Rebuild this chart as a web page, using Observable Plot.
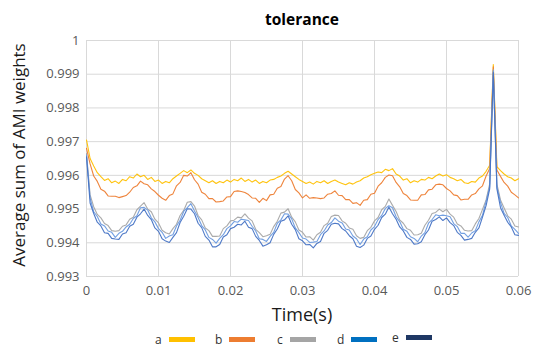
<!DOCTYPE html>
<html>
<head>
<meta charset="utf-8">
<script src="https://cdn.jsdelivr.net/npm/d3@7"></script>
<script src="https://cdn.jsdelivr.net/npm/@observablehq/plot@0.6"></script>
<style>
  html, body { margin: 0; padding: 0; background: #fff; }
  body { width: 537px; height: 350px; position: relative; overflow: hidden; font-family: "Open Sans", "Noto Sans", sans-serif; }
  #title { position: absolute; left: 202px; width: 200px; top: 8px; text-align: center; font-weight: bold; font-size: 15.5px; color: #000; }
  #chart { position: absolute; left: 0; top: 30px; }
  #ylabel { position: absolute; left: 18px; top: 155px; transform: translate(-50%, -50%) rotate(-90deg); white-space: nowrap; font-size: 17px; color: #1a1a1a; }
  #xlabel { position: absolute; left: 252px; width: 100px; top: 302px; text-align: center; font-size: 18px; color: #1a1a1a; }
  .leg { position: absolute; top: 331px; font-size: 12px; color: #333; display: flex; align-items: center; }
  .leg span.sw { display: inline-block; width: 26px; height: 5px; margin-left: 7px; }
</style>
</head>
<body>
<div id="title">tolerance</div>
<div id="chart"></div>
<div id="ylabel">Average sum of AMI weights</div>
<div id="xlabel">Time(s)</div>
<div id="legend"></div>
<script>
// ---- data ----
const seriesNames = ["a", "b", "c", "d", "e"];
const legendColors = ["#FFC000", "#ED7D31", "#A5A5A5", "#0070C0", "#1F3864"];
const lineColors = ["#FFC000", "#ED7D31", "#A5A5A5", "#6C9BE0", "#4472C4"];
const xTicks = [0, 0.01, 0.02, 0.03, 0.04, 0.05, 0.06];
const xTickLabels = ["0", "0.01", "0.02", "0.03", "0.04", "0.05", "0.06"];
const yTicks = [0.993, 0.994, 0.995, 0.996, 0.997, 0.998, 0.999, 1];
const yTickLabels = ["0.993", "0.994", "0.995", "0.996", "0.997", "0.998", "0.999", "1"];
const timeStep = 0.0005; // sample spacing (s)

const a = [0.99705,0.99650,0.99628,0.99608,0.99596,0.99585,0.99590,0.99578,0.99583,0.99576,
0.99588,0.99584,0.99596,0.99592,0.99604,0.99596,0.99600,0.99588,0.99594,0.99582,
0.99586,0.99576,0.99582,0.99578,0.99590,0.99598,0.99606,0.99614,0.99608,0.99616,
0.99606,0.99600,0.99590,0.99584,0.99578,0.99584,0.99576,0.99582,0.99578,0.99586,
0.99580,0.99588,0.99584,0.99592,0.99582,0.99588,0.99580,0.99586,0.99576,0.99582,
0.99578,0.99586,0.99588,0.99594,0.99598,0.99606,0.99612,0.99604,0.99596,0.99588,
0.99582,0.99576,0.99580,0.99574,0.99582,0.99578,0.99584,0.99576,0.99582,0.99586,
0.99580,0.99576,0.99572,0.99578,0.99574,0.99580,0.99584,0.99592,0.99596,0.99602,
0.99606,0.99610,0.99608,0.99618,0.99614,0.99620,0.99604,0.99598,0.99586,0.99590,
0.99578,0.99584,0.99580,0.99588,0.99586,0.99594,0.99590,0.99598,0.99604,0.99598,
0.99602,0.99594,0.99590,0.99584,0.99588,0.99578,0.99576,0.99582,0.99580,0.99592,
0.99598,0.99612,0.99630,0.99929,0.99626,0.99614,0.99604,0.99596,0.99592,0.99584,
0.99590];

const b = [0.99680,0.99634,0.99598,0.99582,0.99559,0.99553,0.99539,0.99538,0.99538,0.99534,
0.99537,0.99540,0.99550,0.99564,0.99569,0.99583,0.99575,0.99572,0.99560,0.99552,
0.99541,0.99532,0.99526,0.99540,0.99545,0.99569,0.99579,0.99600,0.99598,0.99608,
0.99587,0.99574,0.99550,0.99544,0.99531,0.99531,0.99521,0.99522,0.99524,0.99536,
0.99537,0.99552,0.99554,0.99552,0.99549,0.99543,0.99533,0.99532,0.99520,0.99532,
0.99525,0.99542,0.99544,0.99562,0.99567,0.99589,0.99599,0.99584,0.99558,0.99548,
0.99533,0.99542,0.99532,0.99534,0.99533,0.99531,0.99533,0.99544,0.99546,0.99554,
0.99541,0.99540,0.99528,0.99528,0.99517,0.99519,0.99511,0.99526,0.99528,0.99544,
0.99547,0.99568,0.99578,0.99594,0.99601,0.99599,0.99579,0.99566,0.99546,0.99540,
0.99527,0.99526,0.99526,0.99542,0.99543,0.99557,0.99559,0.99572,0.99574,0.99572,
0.99561,0.99554,0.99542,0.99540,0.99527,0.99529,0.99529,0.99542,0.99546,0.99560,
0.99569,0.99598,0.99620,0.99922,0.99616,0.99597,0.99579,0.99568,0.99550,0.99542,
0.99533];

const c = [0.99665,0.99542,0.99507,0.99484,0.99474,0.99457,0.99451,0.99436,0.99434,0.99436,
0.99449,0.99453,0.99470,0.99476,0.99498,0.99509,0.99519,0.99500,0.99492,0.99470,
0.99459,0.99437,0.99430,0.99426,0.99442,0.99455,0.99481,0.99496,0.99520,0.99522,
0.99509,0.99481,0.99468,0.99444,0.99436,0.99419,0.99419,0.99420,0.99442,0.99450,
0.99465,0.99467,0.99476,0.99474,0.99486,0.99473,0.99465,0.99440,0.99430,0.99418,
0.99421,0.99425,0.99448,0.99464,0.99488,0.99491,0.99501,0.99476,0.99462,0.99438,
0.99431,0.99417,0.99418,0.99408,0.99424,0.99431,0.99451,0.99458,0.99478,0.99482,
0.99481,0.99465,0.99458,0.99444,0.99440,0.99421,0.99413,0.99416,0.99436,0.99446,
0.99465,0.99475,0.99498,0.99508,0.99530,0.99511,0.99493,0.99468,0.99458,0.99442,
0.99437,0.99423,0.99424,0.99428,0.99452,0.99467,0.99487,0.99490,0.99500,0.99492,
0.99499,0.99485,0.99476,0.99456,0.99450,0.99437,0.99435,0.99436,0.99456,0.99472,
0.99499,0.99527,0.99575,0.99914,0.99574,0.99527,0.99503,0.99480,0.99470,0.99450,
0.99447];

const d = [0.99660,0.99533,0.99492,0.99478,0.99456,0.99450,0.99435,0.99431,0.99416,0.99428,
0.99434,0.99447,0.99455,0.99472,0.99480,0.99504,0.99505,0.99497,0.99474,0.99462,
0.99442,0.99431,0.99413,0.99420,0.99424,0.99450,0.99467,0.99493,0.99504,0.99516,
0.99494,0.99475,0.99451,0.99438,0.99416,0.99410,0.99399,0.99413,0.99424,0.99442,
0.99450,0.99463,0.99461,0.99470,0.99468,0.99466,0.99449,0.99435,0.99412,0.99410,
0.99404,0.99419,0.99431,0.99458,0.99468,0.99486,0.99485,0.99471,0.99444,0.99430,
0.99414,0.99411,0.99401,0.99402,0.99404,0.99424,0.99435,0.99453,0.99460,0.99474,
0.99464,0.99459,0.99441,0.99438,0.99420,0.99412,0.99395,0.99411,0.99418,0.99438,
0.99448,0.99469,0.99481,0.99502,0.99510,0.99504,0.99477,0.99463,0.99440,0.99434,
0.99418,0.99413,0.99403,0.99420,0.99430,0.99458,0.99469,0.99483,0.99480,0.99482,
0.99480,0.99477,0.99457,0.99448,0.99428,0.99428,0.99417,0.99429,0.99436,0.99462,
0.99482,0.99523,0.99566,0.99910,0.99566,0.99520,0.99487,0.99475,0.99450,0.99440,
0.99428];

const e = [0.99655,0.99518,0.99487,0.99461,0.99450,0.99430,0.99428,0.99413,0.99411,0.99410,
0.99426,0.99430,0.99449,0.99455,0.99476,0.99486,0.99500,0.99481,0.99469,0.99444,
0.99434,0.99412,0.99405,0.99401,0.99416,0.99430,0.99460,0.99479,0.99501,0.99500,
0.99486,0.99458,0.99445,0.99419,0.99408,0.99388,0.99388,0.99395,0.99417,0.99424,
0.99442,0.99446,0.99455,0.99453,0.99464,0.99446,0.99442,0.99419,0.99407,0.99390,
0.99394,0.99400,0.99425,0.99441,0.99464,0.99468,0.99480,0.99455,0.99439,0.99412,
0.99406,0.99394,0.99395,0.99385,0.99398,0.99404,0.99428,0.99437,0.99455,0.99458,
0.99456,0.99442,0.99435,0.99421,0.99412,0.99390,0.99386,0.99393,0.99413,0.99420,
0.99440,0.99452,0.99475,0.99485,0.99506,0.99486,0.99470,0.99447,0.99435,0.99416,
0.99410,0.99396,0.99397,0.99403,0.99424,0.99438,0.99464,0.99469,0.99477,0.99466,
0.99474,0.99460,0.99451,0.99431,0.99422,0.99408,0.99410,0.99413,0.99431,0.99444,
0.99476,0.99510,0.99560,0.99905,0.99560,0.99504,0.99482,0.99461,0.99447,0.99424,
0.99422];

const seriesValues = [a, b, c, d, e];

// ---- build table ----
const rows = [];
seriesValues.forEach((vals, s) => {
  vals.forEach((v, i) => rows.push({series: seriesNames[s], t: i * timeStep, v}));
});

const chart = Plot.plot({
  width: 537,
  height: 300,
  marginLeft: 86,
  marginRight: 19,
  marginTop: 10,
  marginBottom: 54,
  style: {fontFamily: "'Open Sans', 'Noto Sans', sans-serif", fontSize: "13px", color: "#595959", background: "#fff"},
  x: {domain: [0, 0.06], ticks: xTicks, tickFormat: t => xTickLabels[xTicks.indexOf(t)], tickSize: 0, tickPadding: 9, label: null},
  y: {domain: [0.993, 1], ticks: yTicks, tickFormat: t => yTickLabels[yTicks.indexOf(t)], tickSize: 0, tickPadding: 7, label: null},
  color: {domain: seriesNames, range: lineColors},
  marks: [
    Plot.gridX(xTicks, {stroke: "#d9d9d9", strokeOpacity: 1}),
    Plot.gridY(yTicks, {stroke: "#d9d9d9", strokeOpacity: 1}),
    Plot.line(rows, {x: "t", y: "v", z: "series", stroke: "series", strokeWidth: 1.1, strokeOpacity: 0.95})
  ]
});
document.getElementById("chart").appendChild(chart);

// ---- legend ----
const legendX = [155, 215, 277, 337, 392];
const leg = document.getElementById("legend");
seriesNames.forEach((n, i) => {
  const div = document.createElement("div");
  div.className = "leg";
  div.style.left = legendX[i] + "px";
  if (n === "e") div.style.top = "329px";
  div.innerHTML = `<span>${n}</span><span class="sw" style="background:${legendColors[i]}"></span>`;
  leg.appendChild(div);
});
</script>
</body>
</html>
